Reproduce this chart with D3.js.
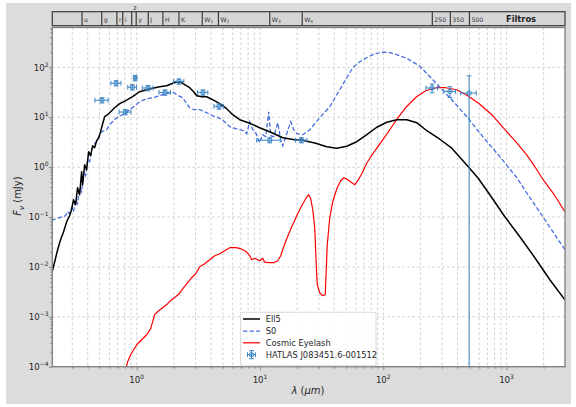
<!DOCTYPE html>
<html>
<head>
<meta charset="utf-8">
<script src="https://cdn.jsdelivr.net/npm/d3@7"></script>
<style>
  html, body { margin: 0; padding: 0; background: #fff; }
  svg { display: block; font-family: "DejaVu Sans", sans-serif; }
</style>
</head>
<body>
<svg id="chart" width="576" height="407"></svg>
<script>
// ---- Photometric filters (central wavelength, micron) ----
const filterNames = ["u", "g", "r", "i", "z", "y", "J", "H", "K", "W1", "W2", "W3", "W4", "250", "350", "500"];
const filterWave  = [0.36, 0.52, 0.69, 0.77, 0.91, 0.99, 1.24, 1.63, 2.2, 3.4, 4.6, 12, 22, 250, 350, 500];

// ---- Template SEDs: [wavelength (micron), flux density (mJy)] ----
const ell5 = [
  [0.206, 0.0080], [0.216, 0.0127], [0.228, 0.0221], [0.241, 0.0351], [0.255, 0.0507],
  [0.270, 0.0805], [0.285, 0.106], [0.296, 0.140], [0.307, 0.222], [0.319, 0.176],
  [0.331, 0.387], [0.344, 0.280], [0.357, 0.809], [0.364, 0.444], [0.378, 1.117],
  [0.392, 0.887], [0.407, 2.035], [0.422, 1.692], [0.439, 2.685], [0.455, 2.448],
  [0.473, 3.381], [0.491, 3.884], [0.509, 5.122], [0.529, 7.408], [0.549, 10.23],
  [0.580, 11.22], [0.614, 12.89], [0.662, 15.49], [0.727, 18.66], [0.813, 21.42],
  [0.926, 25.76], [1.056, 32.43], [1.203, 35.56], [1.346, 38.11], [1.534, 40.85],
  [1.748, 42.77], [1.920, 46.9], [2.108, 51.4], [2.272, 50.3], [2.448, 44.8],
  [2.688, 39.0], [2.897, 32.4], [3.064, 26.97], [3.364, 25.76], [3.693, 25.76],
  [4.131, 22.43], [4.709, 18.66], [5.366, 14.80], [6.004, 11.22], [6.842, 8.91],
  [8.250, 7.58], [9.945, 6.16], [11.99, 5.12], [15.29, 3.88], [19.13, 3.54],
  [22.22, 3.46], [28.32, 3.01], [34.78, 2.564], [41.94, 2.392], [50.54, 2.623],
  [60.94, 3.228], [73.47, 4.459], [88.6, 6.30], [106.8, 7.94], [128.7, 8.91],
  [155.1, 8.91], [187.0, 7.76], [225.5, 5.36], [287.4, 3.62], [359.7, 2.392],
  [485.2, 1.042], [584.8, 0.613], [731.9, 0.280], [968.7, 0.1014], [1282, 0.0403],
  [1697, 0.01529], [2246, 0.00554], [2973, 0.00220]
];

const s0 = [
  [0.204, 0.0843], [0.220, 0.0925], [0.237, 0.0968], [0.250, 0.1014], [0.265, 0.1062],
  [0.275, 0.1277], [0.285, 0.1164], [0.296, 0.1536], [0.307, 0.1277], [0.319, 0.2222],
  [0.331, 0.1847], [0.344, 0.3865], [0.357, 0.3214], [0.371, 0.809], [0.385, 0.6725],
  [0.400, 1.407], [0.415, 1.283], [0.431, 2.232], [0.455, 2.944], [0.482, 3.381],
  [0.509, 4.891], [0.539, 5.364], [0.570, 5.617], [0.603, 7.073], [0.637, 8.124],
  [0.687, 9.772], [0.740, 10.72], [0.813, 12.31], [0.876, 14.13], [0.944, 16.22],
  [1.056, 20.45], [1.203, 23.48], [1.346, 24.59], [1.450, 25.76], [1.623, 28.24],
  [1.748, 29.58], [1.956, 32.43], [2.108, 28.24], [2.358, 24.59], [2.541, 18.66],
  [2.688, 15.49], [2.897, 14.13], [3.241, 14.13], [3.693, 12.31], [4.131, 10.72],
  [4.709, 9.55], [5.170, 8.124], [5.676, 6.451], [6.352, 5.882], [6.842, 5.617],
  [7.374, 5.364], [7.798, 4.670], [8.250, 8.124], [8.726, 5.617], [9.229, 4.891],
  [9.945, 3.083], [10.52, 4.460], [11.13, 4.067], [11.77, 12.89], [12.22, 4.259],
  [12.92, 4.067], [13.92, 7.759], [14.72, 3.541], [15.29, 2.685], [16.17, 4.067],
  [16.78, 5.364], [17.75, 8.124], [18.77, 5.617], [19.86, 4.670], [22.22, 4.460],
  [25.32, 5.617], [30.52, 9.772], [36.79, 16.22], [44.36, 35.57], [50.54, 61.89],
  [56.56, 98.2], [64.47, 129.5], [73.47, 155.7], [85.31, 187.3], [99.06, 200.7],
  [112.9, 196.2], [128.7, 178.9], [155.1, 152.2], [197.8, 105.2], [252.3, 56.43],
  [346.7, 24.60], [476.3, 10.23], [642.2, 4.067], [882.4, 1.616], [1212, 0.613],
  [1546, 0.2435], [1971, 0.1014], [2466, 0.0442], [2973, 0.0221]
];

const eyelash = [
  [0.805, 7.94e-5], [0.844, 1.259e-4], [0.892, 1.738e-4], [0.944, 2.188e-4], [1.017, 2.89e-4],
  [1.096, 3.475e-4], [1.203, 4.375e-4], [1.297, 5.78e-4], [1.346, 7.98e-4], [1.397, 1.102e-3],
  [1.506, 1.325e-3], [1.623, 1.521e-3], [1.781, 1.832e-3], [1.920, 2.203e-3], [2.069, 2.529e-3],
  [2.229, 2.972e-3], [2.403, 3.83e-3], [2.589, 4.82e-3], [2.790, 6.07e-3], [3.007, 7.31e-3],
  [3.241, 0.01009], [3.557, 0.01159], [3.906, 0.01393], [4.289, 0.01675], [4.709, 0.01840],
  [5.170, 0.02113], [5.676, 0.02426], [6.352, 0.02426], [6.973, 0.02316], [7.655, 0.02065],
  [8.250, 0.01675], [8.563, 0.01393], [9.057, 0.01493], [9.579, 0.01393], [9.945, 0.01331],
  [10.52, 0.01493], [10.92, 0.01242], [11.77, 0.01214], [12.92, 0.01214], [13.92, 0.01331],
  [14.72, 0.01675], [15.57, 0.02535], [16.47, 0.03668], [18.08, 0.06383], [19.86, 0.1060],
  [21.81, 0.1682], [23.49, 0.2324], [24.85, 0.2795], [25.79, 0.2324], [26.78, 0.1400],
  [27.80, 0.06104], [28.59, 0.01107], [29.13, 4.40e-3], [30.52, 3.04e-3], [32.28, 2.647e-3],
  [33.82, 2.772e-3], [34.46, 8.79e-3], [35.12, 0.02786], [36.79, 0.0968], [38.91, 0.2025],
  [41.94, 0.3690], [45.19, 0.5340], [47.79, 0.6132], [51.51, 0.5593], [55.52, 0.4869],
  [58.71, 0.4441], [62.09, 0.5340], [66.92, 0.7376], [73.05, 1.170], [79.14, 1.616],
  [88.06, 2.337], [106.2, 4.460], [128.0, 8.912], [154.2, 16.23], [186.0, 25.75],
  [221.3, 33.97], [270.3, 39.00], [321.6, 39.00], [392.8, 35.57], [485.2, 26.97],
  [607.3, 18.22], [760.1, 11.22], [938.5, 6.16], [1168, 3.381], [1453, 1.772],
  [1697, 1.019], [1982, 0.5593], [2466, 0.2673], [2973, 0.1277]
];

// ---- Observed photometry of HATLAS J083451.6-001512 ----
const obsWave    = [0.522, 0.681, 0.808, 0.921, 0.971, 1.233, 1.694, 2.20, 3.445, 4.647, 12.0, 21.7, 249, 347, 497];
const obsWaveErr = [0.064, 0.064, 0.088, 0.076, 0.02, 0.124, 0.18, 0.21, 0.33, 0.42, 2.6, 2.3, 27, 38, 72];
const obsFlux    = [21.9, 48.0, 12.7, 39.9, 61.0, 38.5, 31.4, 52.2, 31.4, 16.5, 3.46, 3.46, 38.5, 32.9, 30.5];
const obsFluxErr = [2.6, 5.8, 1.5, 4.8, 7.3, 4.6, 3.8, 6.3, 3.8, 2.0, 0.4, 0.4, 7.7, 8.0, 37];

// ---- Axis ticks ----
const xMajor = [1, 10, 100, 1000];
const yMajor = [1e-4, 1e-3, 1e-2, 1e-1, 1, 10, 100];
const xMajorExp = ["0", "1", "2", "3"];
const yMajorExp = ["\u22124", "\u22123", "\u22122", "\u22121", "0", "1", "2"];

// ---- Layout ----
const W = 576, H = 407;
const M = { left: 52.3, right: 565, top: 27.5, bottom: 366.7 };
const bar = { top: 11.7, bottom: 25.7 };

const svg = d3.select("#chart");

const x = d3.scaleLog().domain([0.2065, 2980]).range([M.left, M.right]);
const y = d3.scaleLog().domain([1e-4, 628]).range([M.bottom, M.top]);

// figure background
svg.append("rect").attr("x", 6).attr("y", 3).attr("width", 565).attr("height", 401).attr("fill", "#dcdcdc");

// plotting area
svg.append("rect")
  .attr("x", M.left).attr("y", M.top)
  .attr("width", M.right - M.left).attr("height", M.bottom - M.top)
  .attr("fill", "#fff");

svg.append("clipPath").attr("id", "plotclip")
  .append("rect")
  .attr("x", M.left).attr("y", M.top)
  .attr("width", M.right - M.left).attr("height", M.bottom - M.top);

// minor + major tick values
function logTicks(lo, hi) {
  const out = [];
  for (let e = Math.floor(Math.log10(lo)); e <= Math.ceil(Math.log10(hi)); e++) {
    for (let k = 1; k <= 9; k++) {
      const v = k * Math.pow(10, e);
      if (v >= lo && v <= hi) out.push(v);
    }
  }
  return out;
}
const xAll = logTicks(x.domain()[0], x.domain()[1]);
const yAll = logTicks(y.domain()[0], y.domain()[1]);
const xMinor = xAll.filter(v => !xMajor.includes(v));
const yMinor = yAll.filter(v => !yMajor.some(m => Math.abs(m - v) / v < 1e-9));

// grid
const grid = svg.append("g").attr("stroke", "#bdbdbd").attr("stroke-width", 0.7).attr("stroke-dasharray", "2.6,2.4");
grid.selectAll("line.vx").data(xAll).join("line")
  .attr("x1", d => x(d)).attr("x2", d => x(d))
  .attr("y1", M.top).attr("y2", M.bottom);
grid.selectAll("line.hy").data(yMajor).join("line")
  .attr("x1", M.left).attr("x2", M.right)
  .attr("y1", d => y(d)).attr("y2", d => y(d));

// curves
const line = d3.line().x(d => x(d[0])).y(d => y(d[1]));
const curves = svg.append("g").attr("clip-path", "url(#plotclip)");

curves.append("path").datum(eyelash).attr("d", line)
  .attr("fill", "none").attr("stroke", "#ff0000").attr("stroke-width", 1.2).attr("stroke-linejoin", "round");
curves.append("path").datum(s0).attr("d", line)
  .attr("fill", "none").attr("stroke", "#4169e1").attr("stroke-width", 1.25)
  .attr("stroke-dasharray", "4.4,2.2");
curves.append("path").datum(ell5).attr("d", line)
  .attr("fill", "none").attr("stroke", "#000").attr("stroke-width", 1.5).attr("stroke-linejoin", "round");

// observed points with error bars
const obsColor = "#3a84c4";
const cap = 2.4;
const obs = obsWave.map((w, i) => ({ w, we: obsWaveErr[i], f: obsFlux[i], fe: obsFluxErr[i] }));
const og = curves.append("g").attr("stroke", obsColor).attr("fill", "none").attr("stroke-width", 1);
obs.forEach(d => {
  const g = og.append("g");
  const cx = x(d.w), cy = y(d.f);
  const xl = x(d.w - d.we), xr = x(d.w + d.we);
  const yt = y(d.f + d.fe);
  const yb = d.f - d.fe > 0 ? y(d.f - d.fe) : M.bottom + 5;
  g.append("line").attr("x1", xl).attr("x2", xr).attr("y1", cy).attr("y2", cy);
  g.append("line").attr("x1", cx).attr("x2", cx).attr("y1", yt).attr("y2", yb);
  g.append("line").attr("x1", xl).attr("x2", xl).attr("y1", cy - cap).attr("y2", cy + cap);
  g.append("line").attr("x1", xr).attr("x2", xr).attr("y1", cy - cap).attr("y2", cy + cap);
  g.append("line").attr("x1", cx - cap).attr("x2", cx + cap).attr("y1", yt).attr("y2", yt);
  if (d.f - d.fe > 0) g.append("line").attr("x1", cx - cap).attr("x2", cx + cap).attr("y1", yb).attr("y2", yb);
  g.append("circle").attr("cx", cx).attr("cy", cy).attr("r", 2.2).attr("fill", "#fff").attr("fill-opacity", 0);
});

// spines
svg.append("rect")
  .attr("x", M.left).attr("y", M.top)
  .attr("width", M.right - M.left).attr("height", M.bottom - M.top)
  .attr("fill", "none").attr("stroke", "#7d7d7d").attr("stroke-width", 1.3);

// ticks
const tickColor = "#7d7d7d";
const xAxisG = svg.append("g").attr("transform", `translate(0,${M.bottom})`);
xAxisG.call(d3.axisBottom(x).tickValues(xMajor).tickSize(3.5).tickFormat(""));
const xMinorG = svg.append("g").attr("transform", `translate(0,${M.bottom})`);
xMinorG.call(d3.axisBottom(x).tickValues(xMinor).tickSize(2).tickFormat(""));
const yAxisG = svg.append("g").attr("transform", `translate(${M.left},0)`);
yAxisG.call(d3.axisLeft(y).tickValues(yMajor).tickSize(3.5).tickFormat(""));
const yMinorG = svg.append("g").attr("transform", `translate(${M.left},0)`);
yMinorG.call(d3.axisLeft(y).tickValues(yMinor).tickSize(2).tickFormat(""));
[xAxisG, xMinorG, yAxisG, yMinorG].forEach(g => {
  g.select(".domain").remove();
  g.selectAll("line").attr("stroke", tickColor).attr("stroke-width", 0.9);
});

// tick labels (powers of ten)
const labelColor = "#262626";
xMajor.forEach((v, i) => {
  const t = svg.append("text").attr("x", x(v)).attr("y", 383).attr("text-anchor", "middle")
    .attr("font-size", 8.6).attr("fill", labelColor);
  t.append("tspan").text("10");
  t.append("tspan").attr("dy", -4).attr("font-size", 6).text(xMajorExp[i]);
});
yMajor.forEach((v, i) => {
  const t = svg.append("text").attr("x", 48.5).attr("y", y(v) + 3.2).attr("text-anchor", "end")
    .attr("font-size", 8.6).attr("fill", labelColor);
  t.append("tspan").text("10");
  t.append("tspan").attr("dy", -4).attr("font-size", 6).text(yMajorExp[i]);
});

// axis titles
const xt = svg.append("text").attr("x", 308).attr("y", 394).attr("text-anchor", "middle")
  .attr("font-size", 10).attr("fill", labelColor);
xt.append("tspan").attr("font-style", "italic").text("\u03bb");
xt.append("tspan").text(" (");
xt.append("tspan").attr("font-style", "italic").text("\u03bcm");
xt.append("tspan").text(")");

const yt = svg.append("text").attr("transform", "translate(21,196) rotate(-90)")
  .attr("text-anchor", "middle").attr("font-size", 10).attr("fill", labelColor);
yt.append("tspan").attr("font-style", "italic").text("F");
yt.append("tspan").attr("font-style", "italic").attr("font-size", 7).attr("dy", 2.5).text("\u03bd");
yt.append("tspan").attr("dy", -2.5).text(" (mJy)");

// filter strip
svg.append("rect")
  .attr("x", M.left).attr("y", bar.top)
  .attr("width", M.right - M.left).attr("height", bar.bottom - bar.top)
  .attr("fill", "#d6d6d6").attr("stroke", "#3a3a3a").attr("stroke-width", 1.2);
svg.append("g").selectAll("line").data(filterWave).join("line")
  .attr("x1", d => x(d)).attr("x2", d => x(d))
  .attr("y1", bar.top).attr("y2", bar.bottom)
  .attr("stroke", "#3a3a3a").attr("stroke-width", 1.2);
filterNames.forEach((name, i) => {
  const above = name === "z";
  const t = svg.append("text")
    .attr("x", x(filterWave[i]) + (above ? 1.5 : 2))
    .attr("y", above ? 10 : 21.5)
    .attr("font-size", 6.2).attr("fill", "#333");
  const m = name.match(/^W(\d)$/);
  if (m) {
    t.append("tspan").text("W");
    t.append("tspan").attr("font-size", 4.3).attr("dy", 1.5).text(m[1]);
  } else {
    t.text(name);
  }
});
svg.append("text").attr("x", 521).attr("y", 22).attr("text-anchor", "middle")
  .attr("font-size", 8.3).attr("font-weight", "bold").attr("fill", "#222").text("Filtros");

// legend
const lg = svg.append("g");
lg.append("rect").attr("x", 240.7).attr("y", 312.3).attr("width", 135.3).attr("height", 53.5)
  .attr("rx", 2).attr("fill", "#fff").attr("fill-opacity", 0.85)
  .attr("stroke", "#d0d0d0").attr("stroke-width", 0.8);
const legendItems = [
  { label: "Ell5", kind: "line", color: "#000", dash: null, w: 1.5 },
  { label: "S0", kind: "line", color: "#4169e1", dash: "4.4,2.2", w: 1.25 },
  { label: "Cosmic Eyelash", kind: "line", color: "#ff0000", dash: null, w: 1.2 },
  { label: "HATLAS J083451.6-001512", kind: "err", color: obsColor }
];
const rowY = [319, 331, 342.8, 354.7];
legendItems.forEach((it, i) => {
  const yy = rowY[i];
  if (it.kind === "line") {
    lg.append("line").attr("x1", 243).attr("x2", 260).attr("y1", yy).attr("y2", yy)
      .attr("stroke", it.color).attr("stroke-width", it.w)
      .attr("stroke-dasharray", it.dash);
  } else {
    const g = lg.append("g").attr("stroke", it.color).attr("fill", "none").attr("stroke-width", 1);
    const cx = 251.5;
    g.append("line").attr("x1", cx - 4).attr("x2", cx + 4).attr("y1", yy).attr("y2", yy);
    g.append("line").attr("x1", cx).attr("x2", cx).attr("y1", yy - 4).attr("y2", yy + 4);
    g.append("line").attr("x1", cx - 4).attr("x2", cx - 4).attr("y1", yy - 2.4).attr("y2", yy + 2.4);
    g.append("line").attr("x1", cx + 4).attr("x2", cx + 4).attr("y1", yy - 2.4).attr("y2", yy + 2.4);
    g.append("line").attr("x1", cx - 2.4).attr("x2", cx + 2.4).attr("y1", yy - 4).attr("y2", yy - 4);
    g.append("line").attr("x1", cx - 2.4).attr("x2", cx + 2.4).attr("y1", yy + 4).attr("y2", yy + 4);
    g.append("circle").attr("cx", cx).attr("cy", yy).attr("r", 2.2);
  }
  lg.append("text").attr("x", 265.7).attr("y", yy + 3).attr("font-size", 8.3)
    .attr("fill", labelColor).text(it.label);
});
</script>
</body>
</html>
